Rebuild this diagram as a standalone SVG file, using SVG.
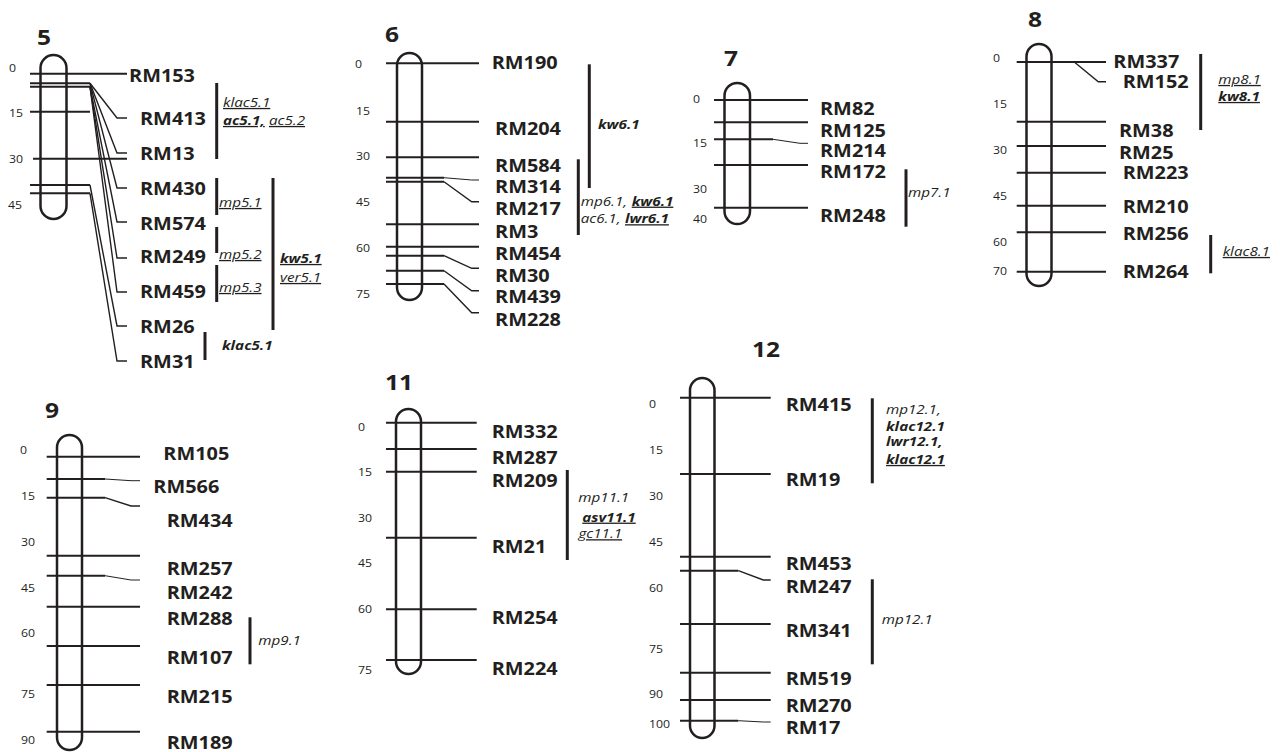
<svg xmlns="http://www.w3.org/2000/svg" width="1280" height="752" viewBox="0 0 1280 752">
<style>
text{fill:#231f20;font-family:"Open Sans","Liberation Sans",sans-serif;transform-box:fill-box;transform-origin:0 0;transform:scaleX(1.17)}
.t{font-size:21px;font-weight:700}
.sc{font-size:10.5px}
.lb{font-size:17px;font-weight:700}
.q{font-size:13px;font-style:italic}
.b{font-weight:700}
.u{text-decoration:underline}
.chr{fill:none;stroke:#231f20;stroke-width:2.5}
.mk{fill:none;stroke:#231f20;stroke-width:2}
.fan{fill:none;stroke:#231f20;stroke-width:1.4}
.thin{fill:none;stroke:#231f20;stroke-width:1}
.bar{stroke:#231f20;stroke-width:3}
</style>
<rect width="1280" height="752" fill="#fff"/>

<g id="chr5">
<text class="t" x="37" y="45">5</text>
<rect class="chr" x="40.5" y="55" width="26" height="164" rx="13"/>
<text class="sc" x="9" y="72">0</text>
<text class="sc" x="9" y="117">15</text>
<text class="sc" x="9" y="163">30</text>
<text class="sc" x="8" y="209">45</text>
<g id="chr5-lines">
<line class="mk" x1="30" y1="73.7" x2="127" y2="73.7"/>
<line class="mk" x1="30" y1="83.3" x2="90" y2="83.3"/>
<line class="mk" x1="30" y1="86.7" x2="90" y2="86.7"/>
<line class="mk" x1="30" y1="111.7" x2="90" y2="111.7"/>
<line class="mk" x1="33" y1="158.7" x2="127" y2="158.7"/>
<line class="mk" x1="30" y1="185" x2="90" y2="185"/>
<line class="mk" x1="30" y1="193.3" x2="90" y2="193.3"/>
<polyline class="fan" points="90,83.3 117,118 127,118"/>
<polyline class="fan" points="90,83.3 117,153 127,153"/>
<polyline class="fan" points="90,83.3 117,188 127,188"/>
<polyline class="fan" points="90,86.7 117,222 127,222"/>
<polyline class="fan" points="90,86.7 117,258 127,258"/>
<polyline class="fan" points="90,86.7 117,292 127,292"/>
<polyline class="fan" points="90,185 117,326 127,326"/>
<polyline class="fan" points="90,193.3 117,361 127,361"/>
</g>
<text class="lb" x="129" y="82">RM153</text>
<text class="lb" x="140" y="125">RM413</text>
<text class="lb" x="140" y="160">RM13</text>
<text class="lb" x="140" y="195">RM430</text>
<text class="lb" x="140" y="230">RM574</text>
<text class="lb" x="140" y="263">RM249</text>
<text class="lb" x="140" y="298">RM459</text>
<text class="lb" x="140" y="333">RM26</text>
<text class="lb" x="140" y="368">RM31</text>
<line class="bar" x1="216.7" y1="83" x2="216.7" y2="159"/>
<line class="bar" x1="216.7" y1="178" x2="216.7" y2="215"/>
<line class="bar" x1="216.7" y1="227" x2="216.7" y2="253"/>
<line class="bar" x1="216.7" y1="265" x2="216.7" y2="302"/>
<line class="bar" x1="273" y1="178" x2="273" y2="330"/>
<line class="bar" x1="205" y1="332" x2="205" y2="360"/>
<text class="q u" x="223" y="107">klac5.1</text>
<text class="q b u" x="223" y="125">ac5.1,</text>
<text class="q u" x="269" y="125">ac5.2</text>
<text class="q u" x="219" y="207">mp5.1</text>
<text class="q u" x="219" y="259">mp5.2</text>
<text class="q u" x="219" y="292">mp5.3</text>
<text class="q b u" x="280" y="263">kw5.1</text>
<text class="q u" x="280" y="282">ver5.1</text>
<text class="q b" x="222" y="350">klac5.1</text>
</g>

<g id="chr6">
<text class="t" x="385" y="42">6</text>
<rect class="chr" x="397" y="53" width="25" height="247" rx="12.5"/>
<text class="sc" x="355" y="68">0</text>
<text class="sc" x="356" y="115">15</text>
<text class="sc" x="356" y="160">30</text>
<text class="sc" x="356" y="206">45</text>
<text class="sc" x="356" y="252">60</text>
<text class="sc" x="356" y="298">75</text>
<g id="chr6-lines">
<line class="mk" x1="386" y1="63.3" x2="479" y2="63.3"/>
<line class="mk" x1="386" y1="121.7" x2="479" y2="121.7"/>
<line class="mk" x1="386" y1="157.3" x2="479" y2="157.3"/>
<polyline class="mk" points="386,177.7 444,177.7"/>
<polyline class="thin" points="444,177.7 471.7,180 479,180"/>
<polyline class="mk" points="386,181.7 444,181.7"/>
<polyline class="fan" points="444,181.7 471.7,201.7 479,201.7"/>
<line class="mk" x1="386" y1="224.3" x2="479" y2="224.3"/>
<line class="mk" x1="386" y1="246.7" x2="479" y2="246.7"/>
<polyline class="mk" points="386,255.7 444,255.7"/>
<polyline class="fan" points="444,255.7 471.7,268.3 479,268.3"/>
<polyline class="mk" points="386,270.7 444,270.7"/>
<polyline class="fan" points="444,270.7 471.7,290.7 479,290.7"/>
<polyline class="mk" points="386,284 444,284"/>
<polyline class="fan" points="444,284 471.7,312.7 479,312.7"/>
</g>
<text class="lb" x="491.7" y="69">RM190</text>
<text class="lb" x="495" y="135">RM204</text>
<text class="lb" x="495" y="172">RM584</text>
<text class="lb" x="495" y="193">RM314</text>
<text class="lb" x="495" y="215">RM217</text>
<text class="lb" x="495" y="238">RM3</text>
<text class="lb" x="495" y="260">RM454</text>
<text class="lb" x="495" y="282">RM30</text>
<text class="lb" x="495" y="303">RM439</text>
<text class="lb" x="495" y="326">RM228</text>
<line class="bar" x1="589.3" y1="64.3" x2="589.3" y2="188"/>
<line class="bar" x1="578.3" y1="159.3" x2="578.3" y2="235"/>
<text class="q b" x="598" y="129">kw6.1</text>
<text class="q" x="580.7" y="205.7">mp6.1,</text>
<text class="q b u" x="631.7" y="205.7">kw6.1</text>
<text class="q" x="580.7" y="223.3">ac6.1,</text>
<text class="q b u" x="625" y="223.3">lwr6.1</text>
</g>

<g id="chr7">
<text class="t" x="724" y="66">7</text>
<rect class="chr" x="724.5" y="83" width="25.5" height="141" rx="12.75"/>
<text class="sc" x="693" y="103">0</text>
<text class="sc" x="693" y="147">15</text>
<text class="sc" x="693" y="193">30</text>
<text class="sc" x="693" y="223">40</text>
<g id="chr7-lines">
<line class="mk" x1="714" y1="100" x2="808" y2="100"/>
<line class="mk" x1="714" y1="122.3" x2="808" y2="122.3"/>
<polyline class="mk" points="714,139.3 773,139.3"/>
<polyline class="thin" points="773,139.3 800,143.3 808,143.3"/>
<line class="mk" x1="714" y1="165" x2="808" y2="165"/>
<line class="mk" x1="714" y1="207.7" x2="808" y2="207.7"/>
</g>
<text class="lb" x="820" y="115">RM82</text>
<text class="lb" x="820" y="137">RM125</text>
<text class="lb" x="820" y="157">RM214</text>
<text class="lb" x="820" y="178">RM172</text>
<text class="lb" x="820" y="222">RM248</text>
<line class="bar" x1="906" y1="169.3" x2="906" y2="226.7"/>
<text class="q" x="908" y="196.7">mp7.1</text>
</g>

<g id="chr8">
<text class="t" x="1028" y="27">8</text>
<rect class="chr" x="1026.5" y="44" width="25" height="242" rx="12.5"/>
<text class="sc" x="993" y="62">0</text>
<text class="sc" x="993" y="108">15</text>
<text class="sc" x="993" y="154">30</text>
<text class="sc" x="993" y="200">45</text>
<text class="sc" x="993" y="246">60</text>
<text class="sc" x="993" y="275">70</text>
<g id="chr8-lines">
<line class="mk" x1="1016.7" y1="62" x2="1106" y2="62"/>
<polyline class="fan" points="1074.3,62 1098.3,81.7 1106,81.7"/>
<line class="mk" x1="1016.7" y1="121.7" x2="1106" y2="121.7"/>
<line class="mk" x1="1016.7" y1="146" x2="1106" y2="146"/>
<line class="mk" x1="1016.7" y1="172.7" x2="1106" y2="172.7"/>
<line class="mk" x1="1016.7" y1="205.7" x2="1106" y2="205.7"/>
<line class="mk" x1="1016.7" y1="232.3" x2="1106" y2="232.3"/>
<line class="mk" x1="1016.7" y1="271.7" x2="1106" y2="271.7"/>
</g>
<text class="lb" x="1113.3" y="68.3">RM337</text>
<text class="lb" x="1122.7" y="88.3">RM152</text>
<text class="lb" x="1119" y="136.7">RM38</text>
<text class="lb" x="1119" y="159.3">RM25</text>
<text class="lb" x="1122.7" y="179.3">RM223</text>
<text class="lb" x="1122.7" y="213.3">RM210</text>
<text class="lb" x="1122.7" y="240">RM256</text>
<text class="lb" x="1122.7" y="278.3">RM264</text>
<line class="bar" x1="1200.7" y1="54" x2="1200.7" y2="130"/>
<line class="bar" x1="1210.7" y1="235" x2="1210.7" y2="273.3"/>
<text class="q u" x="1218.3" y="84">mp8.1</text>
<text class="q b u" x="1218.3" y="101">kw8.1</text>
<text class="q u" x="1222.7" y="256">klac8.1</text>
</g>

<g id="chr9">
<text class="t" x="45" y="418">9</text>
<rect class="chr" x="57" y="435" width="25" height="315" rx="12.5"/>
<text class="sc" x="20" y="454">0</text>
<text class="sc" x="21" y="500">15</text>
<text class="sc" x="21" y="546">30</text>
<text class="sc" x="21" y="592">45</text>
<text class="sc" x="21" y="637">60</text>
<text class="sc" x="21" y="698">75</text>
<text class="sc" x="21" y="744">90</text>
<g id="chr9-lines">
<line class="mk" x1="46.7" y1="456.7" x2="140" y2="456.7"/>
<polyline class="mk" points="46.7,479 105,479"/>
<polyline class="thin" points="105,479 131,480.7 140,480.7"/>
<polyline class="mk" points="46.7,497.7 105,497.7"/>
<polyline class="fan" points="105,497.7 131,506 140,506"/>
<line class="mk" x1="46.7" y1="555.7" x2="140" y2="555.7"/>
<polyline class="mk" points="46.7,575.7 105,575.7"/>
<polyline class="thin" points="105,575.7 131,580 140,580"/>
<line class="mk" x1="46.7" y1="606.7" x2="140" y2="606.7"/>
<line class="mk" x1="46.7" y1="646" x2="140" y2="646"/>
<line class="mk" x1="46.7" y1="685" x2="140" y2="685"/>
<line class="mk" x1="46.7" y1="731.7" x2="140" y2="731.7"/>
</g>
<text class="lb" x="163.3" y="460">RM105</text>
<text class="lb" x="153.3" y="493">RM566</text>
<text class="lb" x="166.7" y="527">RM434</text>
<text class="lb" x="166.7" y="575">RM257</text>
<text class="lb" x="166.7" y="599">RM242</text>
<text class="lb" x="166.7" y="625">RM288</text>
<text class="lb" x="166.7" y="664">RM107</text>
<text class="lb" x="166.7" y="703">RM215</text>
<text class="lb" x="166.7" y="749">RM189</text>
<line class="bar" x1="250" y1="617.3" x2="250" y2="664.3"/>
<text class="q" x="258.3" y="645">mp9.1</text>
</g>

<g id="chr11">
<text class="t" x="385" y="390">11</text>
<rect class="chr" x="396" y="409" width="25" height="265" rx="12.5"/>
<text class="sc" x="358" y="431">0</text>
<text class="sc" x="358" y="476">15</text>
<text class="sc" x="358" y="522">30</text>
<text class="sc" x="358" y="567">45</text>
<text class="sc" x="358" y="613">60</text>
<text class="sc" x="358" y="674">75</text>
<g id="chr11-lines">
<line class="mk" x1="386" y1="422.7" x2="476.7" y2="422.7"/>
<line class="mk" x1="386" y1="449" x2="476.7" y2="449"/>
<line class="mk" x1="386" y1="471.7" x2="476.7" y2="471.7"/>
<line class="mk" x1="386" y1="537.7" x2="476.7" y2="537.7"/>
<line class="mk" x1="386" y1="609.3" x2="476.7" y2="609.3"/>
<line class="mk" x1="386" y1="660" x2="476.7" y2="660"/>
</g>
<text class="lb" x="491.7" y="438">RM332</text>
<text class="lb" x="491.7" y="464">RM287</text>
<text class="lb" x="491.7" y="487">RM209</text>
<text class="lb" x="491.7" y="553">RM21</text>
<text class="lb" x="491.7" y="624">RM254</text>
<text class="lb" x="491.7" y="675">RM224</text>
<line class="bar" x1="567.3" y1="470" x2="567.3" y2="560"/>
<text class="q" x="578.3" y="502.3">mp11.1</text>
<text class="q b u" x="582.3" y="521.7">asv11.1</text>
<text class="q u" x="578.3" y="538.3">gc11.1</text>
</g>

<g id="chr12">
<text class="t" x="752" y="357">12</text>
<rect class="chr" x="690" y="378" width="24.5" height="360" rx="12.25"/>
<text class="sc" x="649" y="408">0</text>
<text class="sc" x="649" y="454">15</text>
<text class="sc" x="649" y="500">30</text>
<text class="sc" x="649" y="546">45</text>
<text class="sc" x="649" y="592">60</text>
<text class="sc" x="649" y="653">75</text>
<text class="sc" x="649" y="698">90</text>
<text class="sc" x="649" y="728">100</text>
<g id="chr12-lines">
<line class="mk" x1="680" y1="397.7" x2="770.7" y2="397.7"/>
<line class="mk" x1="680" y1="474" x2="770.7" y2="474"/>
<line class="mk" x1="680" y1="556.7" x2="770.7" y2="556.7"/>
<polyline class="mk" points="680,570.7 738.3,570.7"/>
<polyline class="fan" points="738.3,570.7 763.3,580 770.7,580"/>
<line class="mk" x1="680" y1="624" x2="770.7" y2="624"/>
<line class="mk" x1="680" y1="672.7" x2="770.7" y2="672.7"/>
<line class="mk" x1="680" y1="700" x2="770.7" y2="700"/>
<polyline class="mk" points="680,720.7 738.3,720.7"/>
<polyline class="thin" points="738.3,720.7 763.3,722 770.7,722"/>
</g>
<text class="lb" x="785.7" y="411">RM415</text>
<text class="lb" x="785.7" y="486">RM19</text>
<text class="lb" x="785.7" y="570">RM453</text>
<text class="lb" x="785.7" y="593">RM247</text>
<text class="lb" x="785.7" y="637">RM341</text>
<text class="lb" x="785.7" y="685">RM519</text>
<text class="lb" x="785.7" y="712">RM270</text>
<text class="lb" x="785.7" y="734">RM17</text>
<line class="bar" x1="872.3" y1="398.3" x2="872.3" y2="483.3"/>
<line class="bar" x1="872.3" y1="579.3" x2="872.3" y2="664.3"/>
<text class="q" x="886" y="414">mp12.1,</text>
<text class="q b" x="886" y="430.7">klac12.1</text>
<text class="q b" x="886" y="446">lwr12.1,</text>
<text class="q b u" x="886" y="464">klac12.1</text>
<text class="q" x="881.7" y="624">mp12.1</text>
</g>
</svg>
